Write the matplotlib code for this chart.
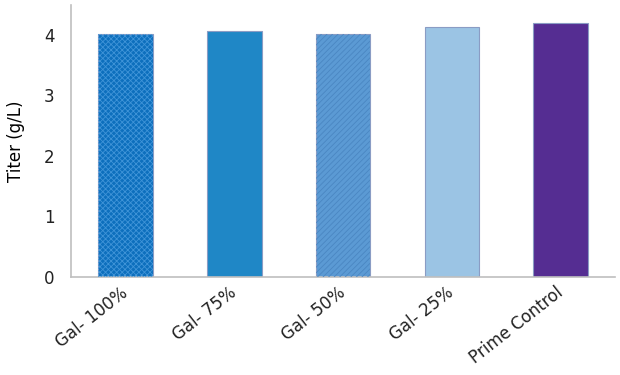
import matplotlib.pyplot as plt
import matplotlib.transforms as mtransforms

# Titer per galactose feed condition
categories = ['Gal- 100%', 'Gal- 75%', 'Gal- 50%', 'Gal- 25%', 'Prime Control']
titers = [4.01, 4.07, 4.01, 4.13, 4.20]

fill_colors = ['#0d6fbd', '#1f87c6', '#5b9ad4', '#9bc4e4', '#552d92']
hatch_colors = ['#3f94d8', None, '#4a86c2', None, None]
hatches = ['xxxxxx', None, '//////', None, None]


def main():
    plt.rcParams['font.family'] = ['DejaVu Sans']
    plt.rcParams['hatch.linewidth'] = 0.6

    fig = plt.figure(figsize=(6.2, 3.75), dpi=100)
    ax = fig.add_axes([0.115, 0.262, 0.877, 0.725])

    x = range(len(categories))
    ax.bar(x, titers, width=0.5, color=fill_colors, edgecolor='#8a9cc4', linewidth=0.8, zorder=2)

    # overlay the fine hatch patterns on the first and third bars
    for i, h in enumerate(hatches):
        if h:
            ax.bar(i, titers[i], width=0.5, color='none', edgecolor=hatch_colors[i],
                   hatch=h, linewidth=0, zorder=3)

    ax.set_xlim(-0.5, len(categories) - 0.5)
    ax.set_ylim(0, 4.5)
    ax.set_yticks([0, 1, 2, 3, 4])
    ax.set_ylabel('Titer (g/L)', fontsize=12, labelpad=14)

    ax.set_xticks(list(x))
    ax.set_xticklabels(categories, rotation=38, ha='right', rotation_mode='anchor', fontsize=12)
    ax.tick_params(axis='both', length=0, labelsize=12, colors='#222222')
    ax.tick_params(axis='y', pad=12)
    ax.tick_params(axis='x', pad=5)

    # nudge the rotated labels slightly left
    shift = mtransforms.ScaledTranslation(-4 / 72, 0, fig.dpi_scale_trans)
    for lbl in ax.get_xticklabels():
        lbl.set_transform(lbl.get_transform() + shift)

    for side in ['top', 'right']:
        ax.spines[side].set_visible(False)
    for side in ['left', 'bottom']:
        ax.spines[side].set_color('#bfbfbf')
        ax.spines[side].set_linewidth(1.2)

    plt.savefig('out.png')


if __name__ == '__main__':
    main()
